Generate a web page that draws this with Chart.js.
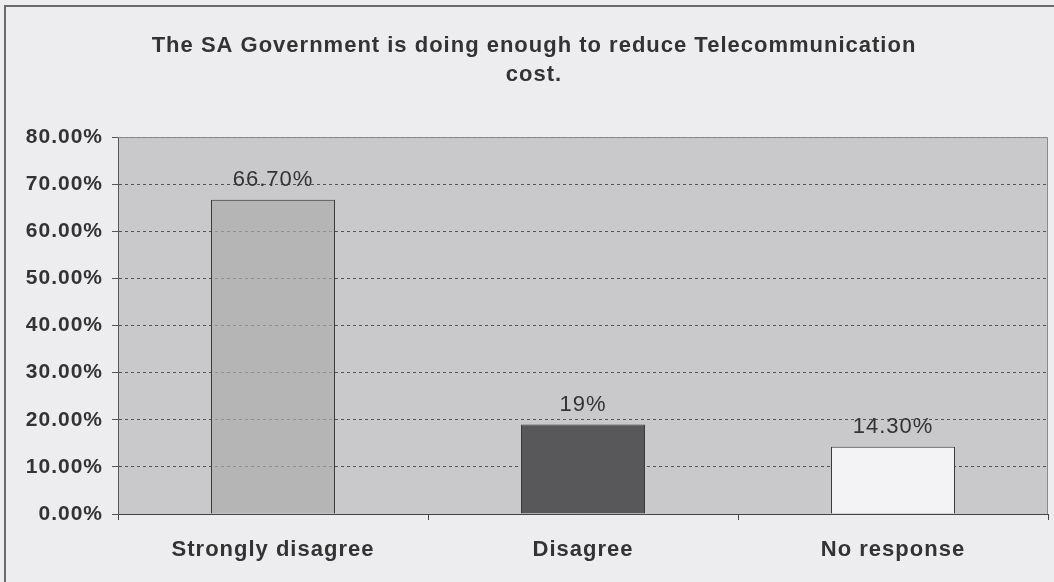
<!DOCTYPE html>
<html>

<head>
    <meta charset="UTF-8">
    <title>Telecommunication cost</title>
    <script src="https://cdn.jsdelivr.net/npm/chart.js"></script>
    <style>
        body {
            margin: 0;
            background: #ededf0;
        }
        #chart-container {
            width: 1054px;
            height: 582px;
        }
    </style>
</head>

<body>
    <div id="chart-container">
        <canvas id="myChart"></canvas>
    </div>

    <script>
        const categories = ['Strongly disagree', 'Disagree', 'No response'];
        const values = [66.7, 19, 14.3];
        const valueLabels = ['66.70%', '19%', '14.30%'];
        const titleLines = ['The SA Government is doing enough to reduce Telecommunication', 'cost.'];

        const FONT = 'Arial, "Liberation Sans"';

        // gray plot area, solid plot border and the outer frame
        const frame = {
            id: 'frame',
            beforeUpdate(chart) {
                chart.ctx.letterSpacing = '1px';
            },
            beforeDraw(chart) {
                const ctx = chart.ctx;
                const a = chart.chartArea;
                ctx.letterSpacing = '1px';
                ctx.save();
                ctx.fillStyle = '#ededf0';
                ctx.fillRect(0, 0, chart.width, chart.height);
                ctx.fillStyle = '#c9c9cb';
                ctx.fillRect(a.left, a.top, a.right - a.left, a.bottom - a.top);
                ctx.strokeStyle = '#6a6a6e';
                ctx.lineWidth = 2;
                ctx.beginPath();
                ctx.moveTo(5, chart.height);
                ctx.lineTo(5, 6);
                ctx.lineTo(chart.width, 6);
                ctx.stroke();
                ctx.restore();
            },
            afterDatasetsDraw(chart) {
                const ctx = chart.ctx;
                const a = chart.chartArea;
                ctx.save();
                ctx.strokeStyle = '#8a8a8e';
                ctx.lineWidth = 1;
                ctx.beginPath();
                ctx.moveTo(a.left, a.top + 0.5);
                ctx.lineTo(a.right - 0.5, a.top + 0.5);
                ctx.lineTo(a.right - 0.5, a.bottom);
                ctx.stroke();

                // value labels above bars
                ctx.fillStyle = '#333';
                ctx.font = '22px ' + FONT;
                ctx.textAlign = 'center';
                ctx.textBaseline = 'middle';
                chart.getDatasetMeta(0).data.forEach((bar, i) => {
                    ctx.fillText(valueLabels[i], bar.x, bar.y - 20);
                });
                ctx.restore();
            }
        };

        const ctx = document.getElementById('myChart').getContext('2d');
        new Chart(ctx, {
            type: 'bar',
            data: {
                labels: categories,
                datasets: [{
                    data: values,
                    backgroundColor: ['#abababae', '#58585a', '#f3f3f5'],
                    borderColor: '#3a3a3c',
                    borderWidth: 1,
                    barPercentage: 0.4,
                    categoryPercentage: 1
                }]
            },
            options: {
                responsive: true,
                maintainAspectRatio: false,
                animation: false,
                layout: {
                    padding: { left: 20, right: 6, top: 0, bottom: 0 }
                },
                plugins: {
                    legend: { display: false },
                    tooltip: { enabled: false },
                    title: {
                        display: true,
                        text: titleLines,
                        color: '#333',
                        font: { family: FONT, size: 22, weight: 'bold', lineHeight: 1.32 },
                        padding: { top: 31, bottom: 48 }
                    }
                },
                scales: {
                    x: {
                        afterFit(scale) { scale.height = 68; },
                        grid: {
                            offset: true,
                            drawOnChartArea: false,
                            color: '#444',
                            tickLength: 6
                        },
                        border: { color: '#444', width: 1 },
                        ticks: {
                            color: '#333',
                            padding: 17,
                            font: { family: FONT, size: 22, weight: 'bold' }
                        }
                    },
                    y: {
                        min: 0,
                        max: 80,
                        afterFit(scale) { scale.width = 98; },
                        grid: {
                            color: '#555',
                            tickLength: 6,
                            tickColor: '#555',
                            tickBorderDash: [1, 0]
                        },
                        border: {
                            color: '#555',
                            dash: [3, 3]
                        },
                        ticks: {
                            stepSize: 10,
                            color: '#333',
                            padding: 9,
                            font: { family: FONT, size: 21, weight: 'bold' },
                            callback: v => v.toFixed(2) + '%'
                        }
                    }
                }
            },
            plugins: [frame]
        });
    </script>
</body>

</html>
